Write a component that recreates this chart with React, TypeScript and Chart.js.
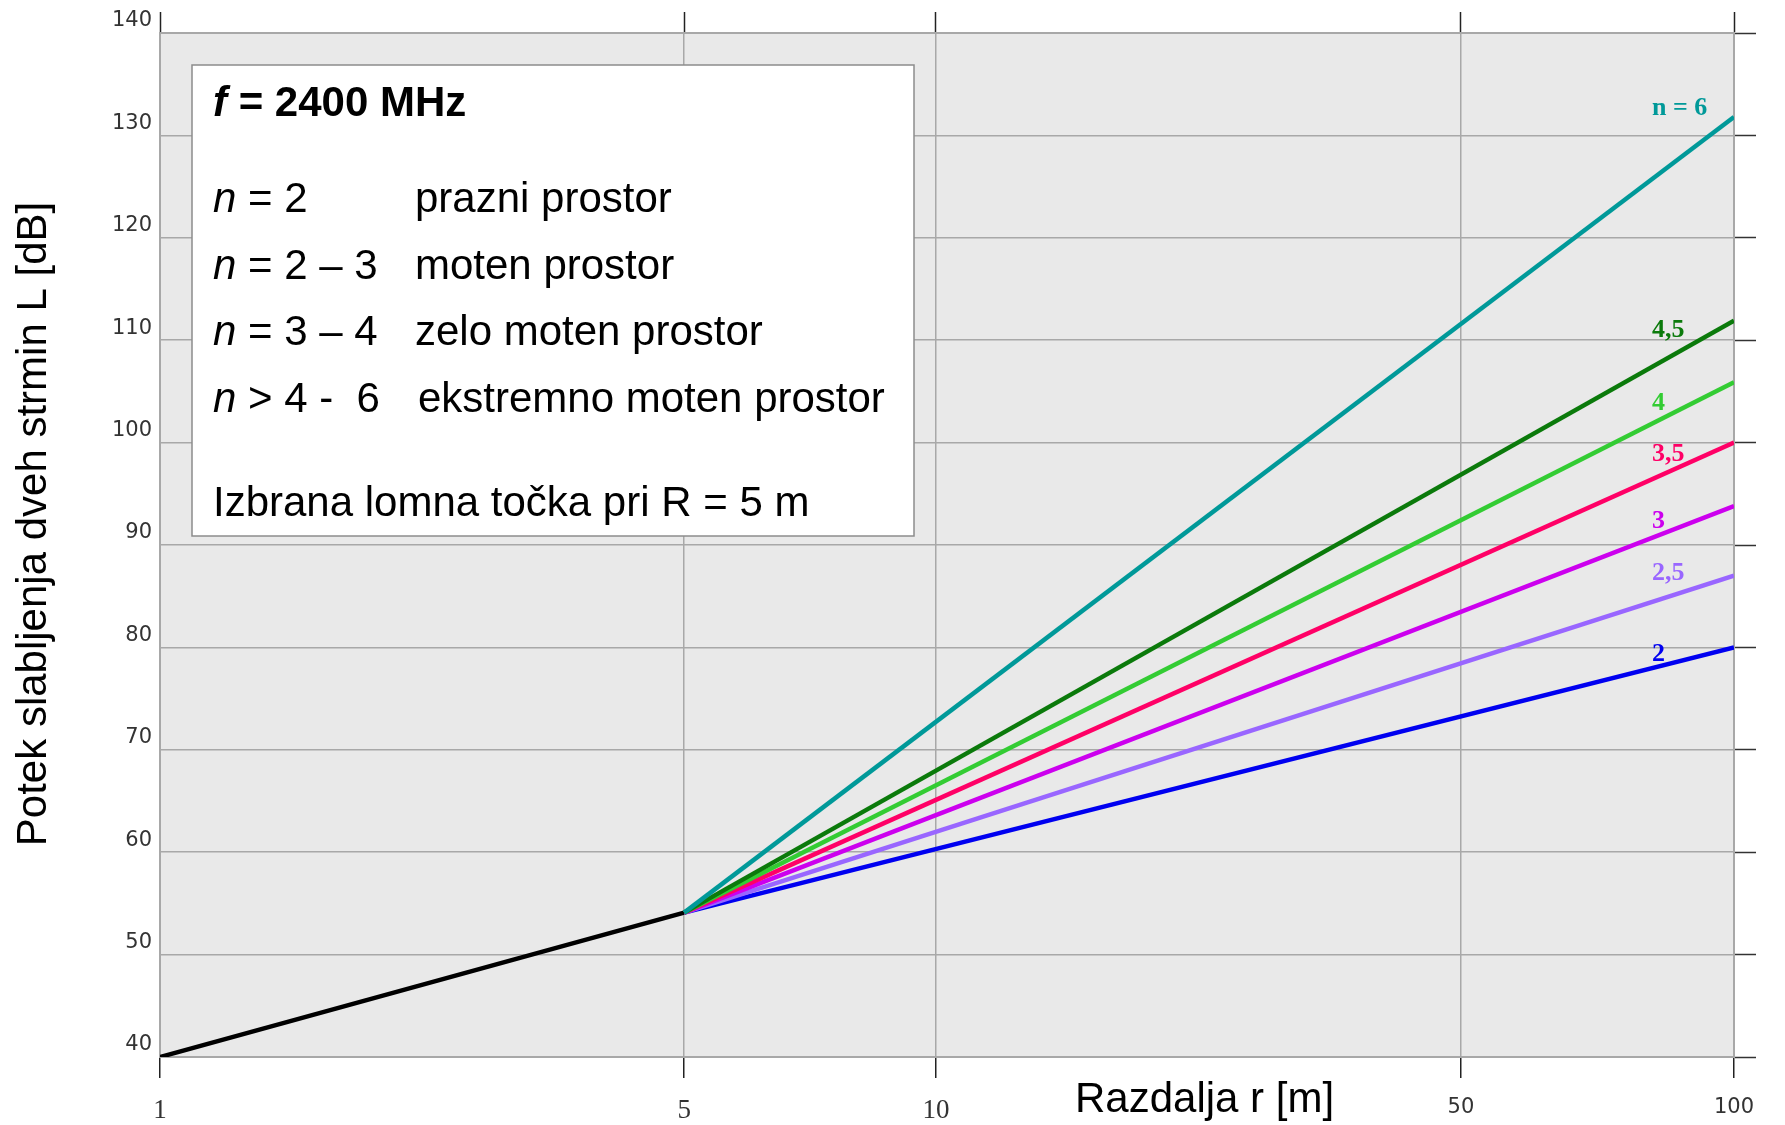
import React, { useEffect, useRef } from 'react';
import { Chart, registerables, LinearScale } from 'chart.js';

// ---------- data ----------
const distanceTicks = [1, 5, 10, 50, 100];
const nearDistances = [1, 5];
const nearLoss = [40, 54.1];
const farDistances = [5, 100];
const exponentLabels = ['2', '2,5', '3', '3,5', '4', '4,5', 'n = 6'];
const lossAtBreak = 54.1;
const lossAt100m = [80.0, 87.0, 93.8, 100.0, 105.9, 111.9, 131.8];
const lossMin = 40;
const lossMax = 140;
const lossStep = 10;

const infoTitle = ['f', ' = 2400 MHz'];
const infoRows = [
  ['n', ' = 2', 'prazni prostor'],
  ['n', ' = 2 – 3', 'moten prostor'],
  ['n', ' = 3 – 4', 'zelo moten prostor'],
  ['n', ' > 4 -  6', 'ekstremno moten prostor'],
];
const infoFooter = 'Izbrana lomna točka pri R = 5 m';
const xTitle = 'Razdalja r [m]';
const yTitle = 'Potek slabljenja dveh strmin L [dB]';

// ---------- styles ----------
const exponentColors = ['#0000f0', '#9966ff', '#cc00ee', '#ff0066', '#33cc33', '#0b7a0b', '#009999'];
const labelShiftY = [7, -2, 15, 12, 21, 10, -9];
const axisBreakValues = [1, 5, 10, 50, 100];
const axisBreakFractions = [0, 0.333, 0.493, 0.8265, 1];

function toFraction(v: number): number {
  const vals = axisBreakValues;
  const fr = axisBreakFractions;
  const lv = Math.log(v);
  let i = 1;
  while (i < vals.length - 1 && v > vals[i]) i++;
  const a = Math.log(vals[i - 1]);
  const b = Math.log(vals[i]);
  const t = (lv - a) / (b - a);
  return fr[i - 1] + t * (fr[i] - fr[i - 1]);
}
function fromFraction(f: number): number {
  const vals = axisBreakValues;
  const fr = axisBreakFractions;
  let i = 1;
  while (i < fr.length - 1 && f > fr[i]) i++;
  const t = (f - fr[i - 1]) / (fr[i] - fr[i - 1]);
  return Math.exp(Math.log(vals[i - 1]) + t * (Math.log(vals[i]) - Math.log(vals[i - 1])));
}

class BrokenScale extends LinearScale {
  static id = 'broken';
  getPixelForValue(value: any) {
    if (value === null || value === undefined || isNaN(value)) return NaN;
    return this.getPixelForDecimal(toFraction(value));
  }
  getValueForPixel(pixel: number) {
    return fromFraction(this.getDecimalForPixel(pixel));
  }
}

Chart.register(...registerables, BrokenScale);

const SANS = '"Liberation Sans", Arial, sans-serif';

const backgroundPlugin = {
  id: 'plotBackground',
  beforeDraw(chart: any) {
    const { ctx, chartArea } = chart;
    ctx.save();
    ctx.fillStyle = '#e9e9e9';
    ctx.fillRect(chartArea.left, chartArea.top, chartArea.right - chartArea.left, chartArea.bottom - chartArea.top);
    ctx.restore();
  },
};

function drawSegments(ctx: any, x: number, y: number, parts: [string, string][]) {
  let cx = x;
  for (const [text, font] of parts) {
    ctx.font = font;
    ctx.fillText(text, cx, y);
    cx += ctx.measureText(text).width;
  }
}

const infoBoxPlugin = {
  id: 'infoBox',
  beforeDatasetsDraw(chart: any) {
    const { ctx, chartArea } = chart;
    const x = chartArea.left + 32;
    const y = chartArea.top + 32;
    const w = 722;
    const h = 471;
    ctx.save();
    ctx.fillStyle = '#ffffff';
    ctx.fillRect(x, y, w, h);
    ctx.strokeStyle = '#8c8c8c';
    ctx.lineWidth = 1.5;
    ctx.strokeRect(x, y, w, h);
    ctx.fillStyle = '#000';
    ctx.textAlign = 'left';
    ctx.textBaseline = 'alphabetic';
    const fs = 42;
    const tx = x + 21;
    drawSegments(ctx, tx, y + 51, [
      [infoTitle[0], `italic bold ${fs}px ${SANS}`],
      [infoTitle[1], `bold ${fs}px ${SANS}`],
    ]);
    infoRows.forEach((row, i) => {
      const by = y + 147 + i * 66.7;
      drawSegments(ctx, tx, by, [
        [row[0], `italic ${fs}px ${SANS}`],
        [row[1], `${fs}px ${SANS}`],
      ]);
      ctx.font = `${fs}px ${SANS}`;
      ctx.fillText(row[2], x + (i === 3 ? 226 : 223), by);
    });
    ctx.font = `${fs}px ${SANS}`;
    ctx.fillText(infoFooter, tx, y + 451);
    ctx.restore();
  },
};

const endLabelPlugin = {
  id: 'endLabels',
  afterDatasetsDraw(chart: any) {
    const { ctx } = chart;
    ctx.save();
    ctx.font = `bold 26px "Liberation Serif", "Times New Roman", serif`;
    ctx.textAlign = 'left';
    ctx.textBaseline = 'middle';
    exponentLabels.forEach((label, i) => {
      const meta = chart.getDatasetMeta(i + 1);
      const pt = meta.data[meta.data.length - 1];
      ctx.fillStyle = exponentColors[i];
      ctx.fillText(label, pt.x - 82, pt.y + labelShiftY[i]);
    });
    ctx.restore();
  },
};

const axisTitlesPlugin = {
  id: 'axisTitles',
  afterDraw(chart: any) {
    const { ctx, chartArea } = chart;
    ctx.save();
    ctx.font = `42px ${SANS}`;
    ctx.fillStyle = '#000';
    ctx.textAlign = 'left';
    ctx.textBaseline = 'alphabetic';
    ctx.fillText(xTitle, chartArea.left + 915, chartArea.bottom + 55);
    ctx.translate(34, chartArea.top + 491);
    ctx.rotate(-Math.PI / 2);
    ctx.textAlign = 'center';
    ctx.textBaseline = 'middle';
    ctx.fillText(yTitle, 0, 0);
    ctx.restore();
  },
};

const setDistanceTicks = (scale: any) => {
  scale.ticks = distanceTicks.map((v) => ({ value: v }));
};

export default function App() {
  const ref = useRef<HTMLCanvasElement>(null);
  useEffect(() => {
    if (!ref.current) return;
    const datasets: any[] = [
      {
        label: 'r < 5 m',
        data: nearDistances.map((d, i) => ({ x: d, y: nearLoss[i] })),
        borderColor: '#000',
        borderWidth: 4.5,
        pointRadius: 0,
        tension: 0,
        order: 10,
      },
      ...exponentLabels.map((lab, i) => ({
        label: lab,
        data: farDistances.map((d, j) => ({ x: d, y: j === 0 ? lossAtBreak : lossAt100m[i] })),
        borderColor: exponentColors[i],
        borderWidth: 4.5,
        pointRadius: 0,
        tension: 0,
        order: 7 - i,
      })),
    ];
    const gridColor = '#a8a8a8';
    const chart = new Chart(ref.current, {
      type: 'line',
      data: { datasets },
      plugins: [backgroundPlugin, infoBoxPlugin, endLabelPlugin, axisTitlesPlugin],
      options: {
        animation: false,
        responsive: false,
        devicePixelRatio: 1,
        layout: { padding: 0 },
        plugins: { legend: { display: false }, tooltip: { enabled: false }, title: { display: false } },
        scales: {
          x: {
            type: 'broken' as any,
            position: 'bottom',
            min: 1,
            max: 100,
            afterBuildTicks: setDistanceTicks,
            afterFit: (s: any) => { s.height = 68; },
            grid: { color: gridColor, lineWidth: 1.5, tickLength: 21, tickColor: '#222', tickWidth: 1.5 },
            border: { color: gridColor, width: 2 },
            ticks: {
              autoSkip: false,
              maxRotation: 0,
              padding: 17,
              color: '#333',
              callback: (v: any) => String(v),
              font: (c: any) =>
                c.tick && c.tick.value >= 50
                  ? { family: '"DejaVu Sans", sans-serif', size: 21 }
                  : { family: '"Liberation Serif", serif', size: 27 },
            },
          } as any,
          xTop: {
            type: 'broken' as any,
            axis: 'x',
            position: 'top',
            min: 1,
            max: 100,
            afterBuildTicks: setDistanceTicks,
            afterFit: (s: any) => { s.height = 33; },
            grid: { drawOnChartArea: false, tickLength: 21, tickColor: '#222', tickWidth: 1.5 },
            border: { color: gridColor, width: 2 },
            ticks: { display: false, autoSkip: false },
          } as any,
          y: {
            type: 'linear',
            position: 'left',
            min: lossMin,
            max: lossMax,
            afterFit: (s: any) => { s.width = 160; },
            grid: { color: gridColor, lineWidth: 1.5, drawTicks: false },
            border: { color: gridColor, width: 2 },
            ticks: {
              stepSize: lossStep,
              padding: 8,
              labelOffset: -12,
              color: '#333',
              font: { family: '"DejaVu Sans", sans-serif', size: 21 },
            },
          },
          yRight: {
            type: 'linear',
            axis: 'y',
            position: 'right',
            min: lossMin,
            max: lossMax,
            afterFit: (s: any) => { s.width = 51; },
            grid: { drawOnChartArea: false, tickLength: 22, tickColor: '#333', tickWidth: 1.5 },
            border: { color: gridColor, width: 2 },
            ticks: { display: false, stepSize: lossStep },
          } as any,
        },
      },
    });
    return () => chart.destroy();
  }, []);
  return (
    <div style={{ position: 'fixed', left: 0, top: 0, width: 1785, height: 1125, background: '#fff' }}>
      <canvas ref={ref} width={1785} height={1125} style={{ display: 'block' }} />
    </div>
  );
}
